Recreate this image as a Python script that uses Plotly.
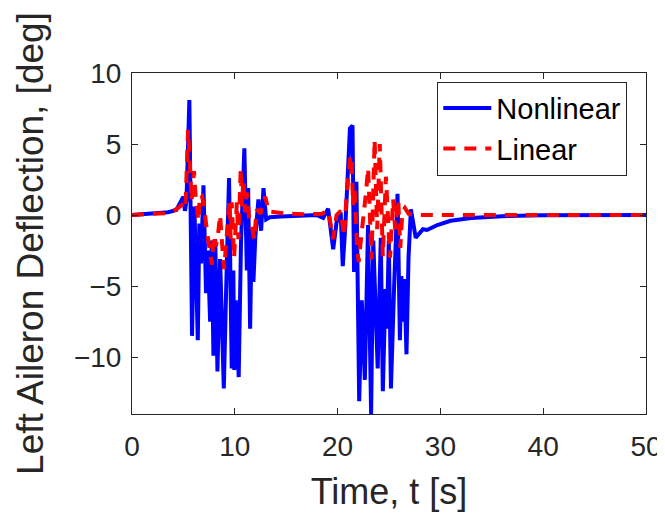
import plotly.graph_objects as go

# ---- Data ----
t_nonlinear = [0, 2, 3.5, 4.3, 4.67, 5.0, 5.15, 5.3, 5.58, 5.84, 6.07, 6.4, 6.55, 6.72, 6.95,
               7.2, 7.37, 7.6, 7.76, 7.92, 8.1, 8.31, 8.57, 8.93, 9.15, 9.44, 9.7, 9.86, 9.95,
               10.1, 10.38, 10.6, 10.93, 11.17, 11.3, 11.49, 11.65, 11.81, 12.0, 12.3, 12.56,
               12.79, 13.05, 13.4, 14.5, 16, 18, 18.6, 19.08, 19.57, 19.9, 20.3, 20.5, 20.75,
               21.2, 21.45, 21.6, 21.83, 22.1, 22.35, 22.65, 22.96, 23.26, 23.47, 23.9, 24.2,
               24.4, 24.66, 24.8, 24.98, 25.19, 25.5, 25.83, 26.06, 26.2, 26.35, 26.5, 26.7,
               26.9, 27.13, 27.6, 28.3, 28.7, 29.7, 31, 33, 36, 40, 45, 50]
y_nonlinear = [0.0, 0.1, 0.2, 0.35, 0.8, 1.3, 0.3, 1.0, 8.1, -8.5, 0.6, -8.8, -0.6, -3.4, 2.1,
               -5.5, -2.5, -7.5, -1.8, -9.9, -1.7, -11.0, -3.1, -12.2, -5.5, 2.6, -10.8, -3.9, -10.9,
               -6.0, -11.4, -2.0, 4.7, -3.9, 1.9, -8.0, -1.0, -4.7, -1.5, 1.1, -1.1,
               1.9, -0.3, -0.15, -0.1, -0.05, 0.0, -0.2, 0.45, -2.4, -0.5, 0.2, -3.6, -0.8,
               6.1, 6.3, -4.0, 2.35, -13.1, -6.0, -11.6, -0.7, -14.0, -1.8, -10.8, -1.6,
               -12.4, -5.2, -8.0, -1.8, -12.2, -5.0, 1.5, -8.8, -4.3, -7.5, -4.5, -9.8,
               -3.0, 0.4, -1.6, -1.0, -1.05, -0.7, -0.4, -0.2, -0.08, -0.02, 0.0, 0.0]

t_linear = [0, 2, 3.5, 4.3, 4.7, 5.0, 5.2, 5.45, 5.6, 5.8, 6.03, 6.2, 6.46, 6.6, 6.78, 7.0,
            7.3, 7.6, 7.77, 7.95, 8.15, 8.35, 8.57, 8.83, 8.96, 9.2, 9.47, 9.6, 9.7, 9.93,
            10.2, 10.35, 10.58, 10.7, 10.84, 11.0, 11.17, 11.4, 11.6, 11.88, 12.13, 12.5,
            12.96, 13.3, 14.0, 15, 17, 18.5, 19.1, 19.57, 19.9, 20.3, 20.63, 20.85, 21.2,
            21.36, 21.5, 21.65, 21.9, 22.05, 22.3, 22.55, 22.75, 22.97, 23.2, 23.3, 23.6,
            23.85, 24.1, 24.4, 24.7, 24.9, 25.1, 25.4, 25.6, 25.9, 26.1, 26.3, 26.55, 26.9,
            27.5, 30, 35, 40, 45, 50]
y_linear = [0.0, 0.05, 0.15, 0.4, 0.6, 0.8, 0.5, 6.0, 4.1, 1.0, 3.1, 1.2, -0.4, 1.4, 1.4, 0.7,
            -1.2, -2.6, -3.5, -1.4, -2.2, -1.5, 0.0, -2.7, -3.8, -1.6, 1.0, -1.7, 0.9, -3.0,
            0.9, -1.7, 3.3, 0.6, 2.5, 0.2, 1.6, -0.2, -0.5, -1.7, 0.4, 0.1,
            1.3, 0.25, 0.2, 0.1, 0.05, 0.1, 0.3, -1.7, 0.0, 0.3, -1.5, 1.1, 3.9,
            4.2, 0.7, 1.9, -2.4, -3.3, -1.5, 0.0, 1.5, 3.3, -3.0, -3.1, 5.3,
            -1.0, 5.0, -2.9, 2.7, -0.5, -3.0, 1.1, -1.0, 1.1, -2.3, 0.2, 0.5, 0.1,
            0.0, 0.0, 0.0, 0.0, 0.0, 0.0]

x_ticks = [0, 10, 20, 30, 40, 50]
y_ticks = [-10, -5, 0, 5, 10]
y_tick_text = ["\u221210", "\u22125", "0", "5", "10"]

FONT = "Liberation Sans, Arial, Helvetica, sans-serif"
AX = "#262626"

fig = go.Figure()
fig.add_trace(go.Scatter(x=t_nonlinear, y=y_nonlinear, mode="lines", name="Nonlinear",
                         line=dict(color="#0000FF", width=4)))
fig.add_trace(go.Scatter(x=t_linear, y=y_linear, mode="lines", name="Linear",
                         line=dict(color="#FF0000", width=4, dash="12px,9px")))

# the page body has an 8px margin, so the figure is sized to fit the 665x517 window
fig.update_layout(
    width=657, height=509,
    margin=dict(l=124, r=19, t=65, b=103, autoexpand=False),
    paper_bgcolor="white", plot_bgcolor="white",
    font=dict(family=FONT, color=AX, size=28),
    showlegend=True,
    legend=dict(x=0.594, y=0.975, xanchor="left", yanchor="top",
                bgcolor="white", bordercolor=AX, borderwidth=1, itemwidth=48,
                font=dict(size=29, color="black"), tracegroupgap=0),
)
fig.update_xaxes(range=[0, 50], tickvals=x_ticks, ticks="inside", ticklen=6, tickcolor=AX,
                 showline=True, linecolor=AX, linewidth=1, mirror="ticks", showgrid=False,
                 zeroline=False, tickfont=dict(size=28, color=AX), ticklabelstandoff=7,
                 automargin=False,
                 title=dict(text="Time, t [s]", font=dict(size=36, color=AX), standoff=18))
fig.update_yaxes(range=[-14, 10], tickvals=y_ticks, ticktext=y_tick_text, ticks="inside",
                 ticklen=6, tickcolor=AX, showline=True, linecolor=AX, linewidth=1,
                 mirror="ticks", showgrid=False, zeroline=False, automargin=False,
                 tickfont=dict(size=28, color=AX), ticklabelstandoff=4,
                 title=dict(text="Left Aileron Deflection, [deg]", font=dict(size=37, color=AX),
                            standoff=18))

fig.write_html("out.html")
